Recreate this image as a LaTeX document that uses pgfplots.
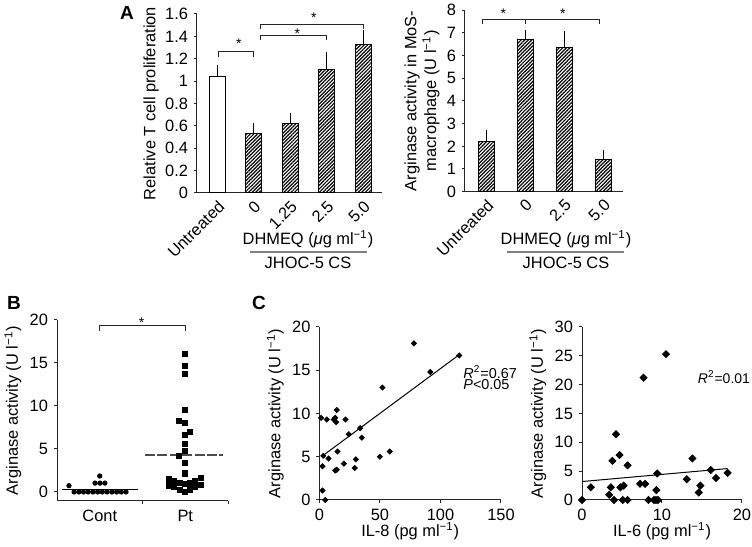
\documentclass[border=0pt]{standalone}
\usepackage{fontspec}
\setmainfont{Liberation Sans}
\usepackage{pgfplots}
\pgfplotsset{compat=1.18}
\usetikzlibrary{patterns.meta}

\pgfplotsset{
  panel/.style={
    scale only axis,
    anchor=south west,
    axis lines*=left,
    tick align=outside,
    major tick length=1.6pt,
    axis line style={black!85, line width=0.5pt},
    tick style={black!85, line width=0.5pt},
    /pgf/number format/assume math mode=true,
    clip=false,
    xlabel style={yshift=4.5pt},
  },
  hatch/.style={draw=black, line width=0.5pt,
    pattern={Lines[angle=45,distance=1.25pt,line width=0.6pt]}, pattern color=black},
  errs/.style={error bars/.cd, y dir=plus, y explicit,
    error bar style={black, line width=0.5pt},
    error mark options={black, line width=0.5pt, mark size=1.75pt}},
  rotlabels/.style={xtick style={draw=none},
    xticklabel style={rotate=45, anchor=north east, inner sep=1pt}},
}
\newcommand{\sig}{\fontsize{7}{8}\selectfont *}

\begin{document}
\fontsize{8.2}{9.8}\selectfont
\begin{tikzpicture}
\path[use as bounding box] (0,0) rectangle (376pt,273.5pt);

% A, left: T cell proliferation
\begin{axis}[panel, rotlabels, at={(98.5pt,177pt)}, width=92.5pt, height=89.5pt,
  xmin=-0.55, xmax=4.52, ymin=0, ymax=1.6,
  ytick={0,0.2,0.4,0.6,0.8,1,1.2,1.4,1.6},
  xtick={0,1,2,3,4}, xticklabels={Untreated,0,1.25,2.5,5.0},
  ylabel={Relative T cell proliferation}, ylabel shift=-2.5pt]
\addplot[ybar, bar width=8pt, bar shift=0pt, draw=black, line width=0.5pt, fill=white, errs]
  coordinates {(0,1.045) +- (0,0.07)};
\addplot[ybar, bar width=8pt, bar shift=0pt, hatch, errs]
  coordinates {(1,0.536) +- (0,0.055) (2,0.625) +- (0,0.055)
               (3,1.108) +- (0,0.125) (4,1.33) +- (0,0.10)};
\draw[black!85, line width=0.5pt] (axis cs:0.03,1.215) |- (axis cs:1.01,1.263) -- (axis cs:1.01,1.215);
\draw[black!85, line width=0.5pt] (axis cs:1.18,1.367) |- (axis cs:3.0,1.412) -- (axis cs:3.0,1.367);
\draw[black!85, line width=0.5pt] (axis cs:1.18,1.466) |- (axis cs:4.0,1.51) -- (axis cs:4.0,1.466);
\node[anchor=north, inner sep=0pt] at (axis cs:0.6,1.385) {\sig};
\node[anchor=north, inner sep=0pt] at (axis cs:2.2,1.475) {\sig};
\node[anchor=north, inner sep=0pt] at (axis cs:2.65,1.617) {\sig};
\end{axis}

% A, right: arginase activity in macrophages
\begin{axis}[panel, rotlabels, at={(232.5pt,177.65pt)}, width=79pt, height=90.85pt,
  xmin=-0.54, xmax=3.51, ymin=0, ymax=8,
  ytick={0,1,2,3,4,5,6,7,8},
  xtick={0,1,2,3}, xticklabels={Untreated,0,2.5,5.0},
  ylabel={Arginase activity in MoS-\\macrophage (U l\textsuperscript{−1})},
  ylabel style={align=center}, ylabel shift=-2pt]
\addplot[ybar, bar width=8pt, bar shift=0pt, hatch, errs]
  coordinates {(0,2.20) +- (0,0.37) (1,6.68) +- (0,0.30)
               (2,6.34) +- (0,0.59) (3,1.40) +- (0,0.26)};
\draw[black!85, line width=0.5pt] (axis cs:-0.1,7.39) |- (axis cs:1,7.59) -| (axis cs:2.9,7.39);
\draw[black!85, line width=0.5pt] (axis cs:1,7.59) -- (axis cs:1,7.39);
\node[anchor=north, inner sep=0pt] at (axis cs:0.44,8.05) {\sig};
\node[anchor=north, inner sep=0pt] at (axis cs:1.97,8.05) {\sig};
\end{axis}

% B: arginase activity, controls vs patients
\begin{axis}[panel, at={(28.5pt,23pt)}, width=85.5pt, height=90.5pt,
  xmin=-0.5, xmax=1.5, ymin=-1.05, ymax=20,
  ytick={0,5,10,15,20},
  xtick={0.5,1.5}, xticklabels={},
  extra x ticks={0,1}, extra x tick labels={Cont,Pt},
  extra x tick style={tick style={draw=none}},
  ylabel={Arginase activity (U l\textsuperscript{−1})}, ylabel shift=-1.5pt]
\addplot[only marks, mark=*, mark size=1.1pt, black] coordinates {
  (-0.30,0) (-0.245,0) (-0.19,0) (-0.135,0) (-0.08,0) (-0.025,0)
  (0.03,0) (0.086,0) (0.142,0) (0.197,0) (0.252,0) (0.307,0)
  (-0.36,0.73) (-0.055,1.03) (0.003,1.03) (0.06,1.03) (0,1.86)};
\addplot[black, line width=0.6pt] coordinates {(-0.44,0.31) (0.45,0.31)};
\addplot[only marks, mark=square*, mark size=1.3pt, black] coordinates {
  (1.0,16.05) (1.0,14.65) (1.0,13.76) (1.0,9.53) (0.93,8.3) (1.0,8.06)
  (1.055,7.0) (1.0,6.63) (1.0,5.6) (1.0,4.77) (0.93,4.22) (1.0,3.41) (1.0,2.17)
  (0.813,1.47) (0.87,1.28) (0.935,1.05) (1.0,0.95) (1.055,1.08) (1.114,1.31) (1.18,1.66)
  (0.813,0.74) (0.87,0.62) (0.935,0.25) (1.0,0.04) (1.055,0.31) (1.114,0.62) (1.18,0.78)};
\addplot[black!70, line width=0.6pt, dash pattern=on 5pt off 1.2pt] coordinates {(0.53,4.3) (1.44,4.3)};
\draw[black!85, line width=0.5pt] (axis cs:0,18.7) |- (axis cs:1,19.4) -- (axis cs:1,18.7);
\node[anchor=north, inner sep=0pt] at (axis cs:0.49,20.35) {\sig};
\end{axis}

% C, left: arginase vs IL-8
\begin{axis}[panel, at={(159.75pt,23.5pt)}, width=90.75pt, height=86.5pt,
  xmin=0, xmax=150, ymin=0, ymax=20,
  xtick={0,50,100,150}, ytick={0,5,10,15,20},
  xlabel={IL-8 (pg ml\textsuperscript{−1})},
  ylabel={Arginase activity (U l\textsuperscript{−1})}, ylabel shift=-1.5pt]
\addplot[only marks, mark=square*, mark size=0.9pt, black, every mark/.append style={rotate=45}] coordinates {
  (1.3,9.5) (6,9.3) (11.8,9.3) (13,9.5) (14.3,10.4) (13.7,9.0) (21.5,9.3)
  (24.2,7.6) (33.6,8.3) (35,7.2) (3.1,5.1) (7.5,4.8) (14.9,5.6) (2.5,3.9)
  (13,3.4) (14.3,3.5) (20.1,4.2) (29.2,3.7) (30,4.7) (49.9,5.0) (58.1,5.6)
  (52,13.0) (78,18.1) (91.5,14.8) (115.5,16.7) (2.5,1.1) (4.7,0)};
\addplot[black, line width=0.5pt] coordinates {(2.5,5.1) (115.5,16.8)};
\node[anchor=west, inner sep=0pt, font=\fontsize{7.2}{8}\selectfont] at (axis cs:118.6,14.8) {\textit{R}\textsuperscript{2}=0.67};
\node[anchor=west, inner sep=0pt, font=\fontsize{7.2}{8}\selectfont] at (axis cs:118.6,13.4) {\textit{P}<0.05};
\end{axis}

% C, right: arginase vs IL-6
\begin{axis}[panel, at={(291pt,23.5pt)}, width=80pt, height=86.5pt,
  xmin=0, xmax=20, ymin=0, ymax=30,
  xtick={0,10,20}, ytick={0,5,10,15,20,25,30},
  xlabel={IL-6 (pg ml\textsuperscript{−1})},
  ylabel={Arginase activity (U l\textsuperscript{−1})}, ylabel shift=-1.5pt]
\addplot[only marks, mark=square*, mark size=1.25pt, black, every mark/.append style={rotate=45}] coordinates {
  (0,0) (1.1,2.2) (3.4,0.9) (3.6,2.2) (3.8,6.8) (4.0,0) (4.25,11.4) (4.7,7.8)
  (4.8,2.2) (5.2,2.5) (5.1,0) (5.7,0) (5.7,6.0) (7.25,2.8) (7.9,2.8) (7.7,21.2)
  (8.3,0) (9.0,0) (9.25,0) (9.5,0) (9.3,1.7) (9.4,4.6) (10.5,25.3) (13.1,3.6)
  (13.8,7.2) (14.6,1.3) (14.8,2.5) (16.1,5.2) (16.75,3.8) (18.2,4.7)};
\addplot[black, line width=0.5pt] coordinates {(0,3.2) (18.2,5.45)};
\node[anchor=east, inner sep=0pt, font=\fontsize{7}{8}\selectfont] at (axis cs:21.05,21.3) {\textit{R}\textsuperscript{2}=0.01};
\end{axis}

% group labels and panel letters, in pixel coordinates of the reference
\begin{scope}[x=0.5pt, y=-0.5pt, yshift=273.5pt]
\node at (308,239) {DHMEQ ({\itshape μ}g ml\textsuperscript{−1})};
\draw[black!50, line width=1pt] (250,252) -- (367,252);
\node at (308,263) {JHOC-5 CS};
\node at (566,239) {DHMEQ ({\itshape μ}g ml\textsuperscript{−1})};
\draw[black!50, line width=1pt] (507,252) -- (624,252);
\node at (566,263) {JHOC-5 CS};
\node[font=\bfseries\fontsize{9.5}{11}\selectfont] at (127,13) {A};
\node[font=\bfseries\fontsize{9.5}{11}\selectfont] at (14,303) {B};
\node[font=\bfseries\fontsize{9.5}{11}\selectfont] at (259,303) {C};
\end{scope}
\end{tikzpicture}
\end{document}
